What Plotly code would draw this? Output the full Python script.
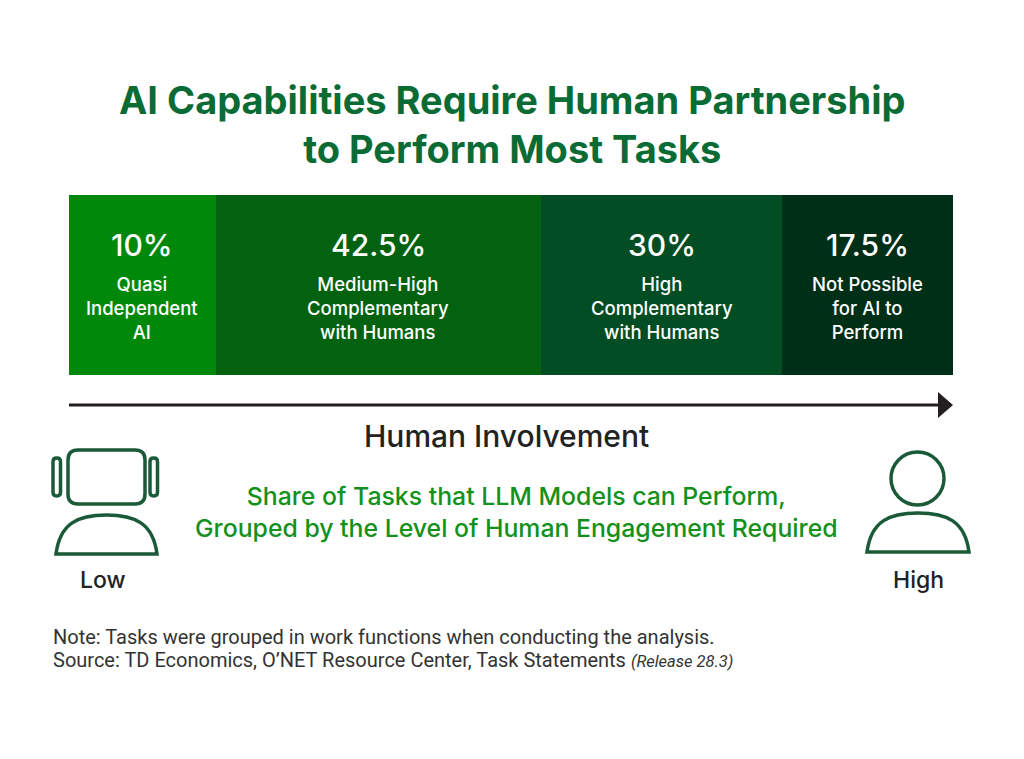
import plotly.graph_objects as go

# segment data
pct_labels = ['10%', '42.5%', '30%', '17.5%']
cat_labels = ['Quasi<br>Independent<br>AI',
              'Medium-High<br>Complementary<br>with Humans',
              'High<br>Complementary<br>with Humans',
              'Not Possible<br>for AI to<br>Perform']
# drawn lengths of the segments as they appear on the graphic (share of bar)
seg_span = [16.6, 36.8, 27.3, 19.3]
seg_colors = ['#00880b', '#03620f', '#034d24', '#002f18']

# page has an 8px body margin, so the figure is drawn 8px in from the corner
OFF = 8
W, H = 1024 - 2 * OFF, 759 - 2 * OFF
ICON = '#1b5a38'


def px(x, y):
    return (x - OFF) / W, 1 - (y - OFF) / H


def path(points_cmds):
    out = ''
    for cmd, pts in points_cmds:
        out += cmd
        out += ' '.join('%.5f,%.5f' % px(x, y) for x, y in pts) + ' '
    return out.strip()


def rrect(x0, y0, x1, y1, r):
    return path([
        ('M', [(x0 + r, y0)]), ('L', [(x1 - r, y0)]), ('Q', [(x1, y0), (x1, y0 + r)]),
        ('L', [(x1, y1 - r)]), ('Q', [(x1, y1), (x1 - r, y1)]),
        ('L', [(x0 + r, y1)]), ('Q', [(x0, y1), (x0, y1 - r)]),
        ('L', [(x0, y0 + r)]), ('Q', [(x0, y0), (x0 + r, y0)]), ('Z', [])])


def dome(x0, x1, yt, yb):
    xc = (x0 + x1) / 2
    w = x1 - x0
    return path([
        ('M', [(x0, yb)]),
        ('C', [(x0 + 4, yt + 8), (xc - w * 0.28, yt), (xc, yt)]),
        ('C', [(xc + w * 0.28, yt), (x1 - 4, yt + 8), (x1, yb)]),
        ('Z', [])])


fig = go.Figure()
for i in range(len(seg_span)):
    fig.add_trace(go.Bar(x=[seg_span[i]], y=[0], orientation='h',
                         marker=dict(color=seg_colors[i], line=dict(width=0)),
                         hoverinfo='skip', showlegend=False))

annotations = []
left = 0
for i in range(len(seg_span)):
    mid = left + seg_span[i] / 2
    left += seg_span[i]
    annotations.append(dict(x=mid, y=0.225, xref='x', yref='y', text=pct_labels[i],
                            showarrow=False, font=dict(size=30, color='white', family='Inter', weight=500)))
    annotations.append(dict(x=mid, y=-0.13, xref='x', yref='y', text=cat_labels[i],
                            showarrow=False, font=dict(size=18.5, color='white', family='Inter', weight=500)))


def ptext(x, y, text, size, color, weight=400, xanchor='center', align='center', family='Inter'):
    px_, py_ = px(x, y)
    annotations.append(dict(x=px_, y=py_, xref='paper', yref='paper', text=text, showarrow=False,
                            xanchor=xanchor, yanchor='middle', align=align,
                            font=dict(size=size, color=color, family=family, weight=weight)))


ptext(512, 125, 'AI Capabilities Require Human Partnership<br>to Perform Most Tasks', 38, '#0b6b35', 700)
ptext(506, 436, 'Human Involvement', 30, '#222222', 500)
ptext(516, 512, 'Share of Tasks that LLM Models can Perform,<br>Grouped by the Level of Human Engagement Required',
      24.8, '#14911a', 500)
ptext(103, 580, 'Low', 23, '#222222', 500)
ptext(918, 580, 'High', 23, '#222222', 500)
ptext(51, 637, 'Note: Tasks were grouped in work functions when conducting the analysis.', 20, '#333333',
      400, 'left', 'left', 'Roboto')
ptext(51, 660, 'Source: TD Economics, O\u2019NET Resource Center, Task Statements <i style="font-size:16.5px">(Release 28.3)</i>',
      20, '#333333', 400, 'left', 'left', 'Roboto')

shapes = []
# arrow
ax0, ay = px(69, 405)
ax1, _ = px(941, 405)
shapes.append(dict(type='line', xref='paper', yref='paper', x0=ax0, x1=ax1, y0=ay, y1=ay,
                   line=dict(color='#231f20', width=3)))
shapes.append(dict(type='path', xref='paper', yref='paper',
                   path=path([('M', [(938, 392)]), ('L', [(953, 405)]), ('L', [(938, 418)]), ('Z', [])]),
                   fillcolor='#231f20', line=dict(width=0)))
# robot icon
icon_line = dict(color=ICON, width=3.5)
shapes.append(dict(type='path', xref='paper', yref='paper', path=rrect(68, 450, 145, 504, 10), line=icon_line))
shapes.append(dict(type='path', xref='paper', yref='paper', path=rrect(53, 458, 60.5, 496, 3.7), line=icon_line))
shapes.append(dict(type='path', xref='paper', yref='paper', path=rrect(150, 458, 157.5, 496, 3.7), line=icon_line))
shapes.append(dict(type='path', xref='paper', yref='paper', path=dome(56, 157, 515, 554), line=icon_line))
# person icon
cx0, cy0 = px(891, 452)
cx1, cy1 = px(944, 505)
shapes.append(dict(type='circle', xref='paper', yref='paper', x0=cx0, x1=cx1, y0=cy1, y1=cy0, line=icon_line))
shapes.append(dict(type='path', xref='paper', yref='paper', path=dome(867, 969, 513, 552), line=icon_line))

bx0, bar_top = px(69, 195)
bx1, bar_bot = px(953, 375)
fig.update_layout(
    width=W, height=H,
    barmode='stack', bargap=0,
    margin=dict(l=0, r=0, t=0, b=0),
    paper_bgcolor='white', plot_bgcolor='white',
    xaxis=dict(domain=[bx0, bx1], range=[0, 100], visible=False, fixedrange=True),
    yaxis=dict(domain=[bar_bot, bar_top], range=[-0.5, 0.5], visible=False, fixedrange=True),
    annotations=annotations, shapes=shapes,
)

fig.write_html("out.html")
